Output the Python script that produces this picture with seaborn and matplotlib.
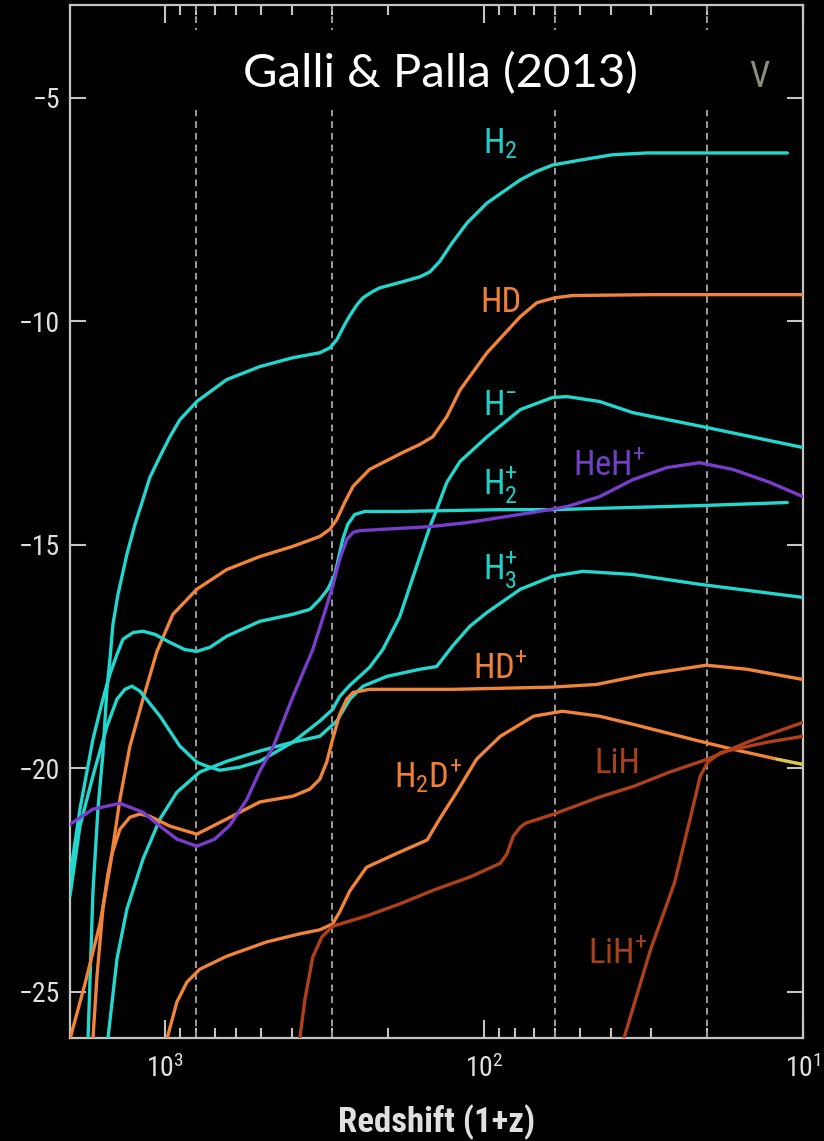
import matplotlib
matplotlib.use("Agg")
import matplotlib.pyplot as plt
from matplotlib import font_manager as fm
from matplotlib.patches import Rectangle
from matplotlib.ticker import LogLocator, NullFormatter, FixedLocator, FixedFormatter
import seaborn as sns

# ---------------------------------------------------------------
# Fractional abundances log10(n_i/n_H) against redshift (1+z)
# ---------------------------------------------------------------
z_H2 = [1750, 1688, 1628, 1571, 1526, 1493, 1461, 1409, 1321, 1246, 1176, 1119, 1040, 968, 901, 797,
        642, 506, 398, 328, 305, 290, 274, 264, 251, 240, 225, 213, 180, 159, 148, 138, 126, 113, 98,
        77, 68.4, 61, 50, 39.6, 30.9, 21.1, 11.2]
x_H2 = [-26.1, -22.77, -20.91, -19.68, -18.23, -17.56, -16.78, -16.11, -15.21, -14.54, -13.98, -13.49,
        -13.02, -12.58, -12.20, -11.79, -11.30, -11.01, -10.81, -10.70, -10.59, -10.41, -10.07, -9.87,
        -9.63, -9.47, -9.34, -9.25, -9.11, -9.00, -8.89, -8.66, -8.24, -7.79, -7.35, -6.83, -6.64,
        -6.50, -6.39, -6.27, -6.23, -6.23, -6.23]

z_HD = [1992, 1788, 1605, 1493, 1389, 1292, 1176, 1063, 947, 797, 642, 506, 398, 328, 305, 290, 274,
        258, 229, 180, 159, 145, 131, 119, 98, 77, 68.4, 60, 52.8, 30.3, 10.0]
x_HD = [-26.05, -24.82, -23.48, -22.21, -20.69, -19.50, -18.45, -17.38, -16.55, -15.99, -15.55, -15.26,
        -15.03, -14.81, -14.65, -14.43, -14.05, -13.69, -13.31, -12.93, -12.75, -12.58, -12.13, -11.53,
        -10.70, -9.89, -9.58, -9.47, -9.42, -9.40, -9.40]

z_Hm = [1992, 1854, 1688, 1526, 1419, 1340, 1274, 1202, 1040, 901, 797, 741, 675, 584, 506, 398, 328,
        299, 284, 264, 229, 208, 184, 163, 148, 141, 131, 119, 98, 77, 61, 55, 43.5, 34.2, 20.1, 10.0]
x_Hm = [-22.85, -21.29, -20.17, -19.06, -18.45, -18.23, -18.16, -18.27, -18.83, -19.50, -19.86, -19.95,
        -20.04, -19.97, -19.84, -19.41, -18.94, -18.68, -18.39, -18.14, -17.74, -17.34, -16.60, -15.48,
        -14.59, -14.21, -13.60, -13.13, -12.58, -11.97, -11.70, -11.68, -11.79, -12.04, -12.37, -12.82]

z_H2p = [1992, 1854, 1688, 1571, 1493, 1419, 1359, 1264, 1176, 1079, 968, 869, 797, 725, 642, 506, 398,
         352, 328, 309.5, 294, 278, 268, 255, 237, 184, 89, 61, 34.2, 21.1, 11.2]
x_H2p = [-22.41, -20.91, -19.35, -18.45, -17.89, -17.45, -17.11, -16.96, -16.93, -17.00, -17.18, -17.34,
         -17.38, -17.29, -17.04, -16.71, -16.55, -16.44, -16.22, -15.99, -15.66, -14.88, -14.54, -14.32,
         -14.25, -14.25, -14.21, -14.21, -14.16, -14.12, -14.05]

z_HeHp = [1992, 1688, 1389, 1176, 1040, 920, 797, 700, 628, 555, 506, 460, 398, 345, 316, 299, 284, 270,
          258, 246, 208, 148, 113, 70, 55, 43.5, 34.2, 26.8, 21.1, 16.6, 12.7, 10.0]
x_HeHp = [-21.25, -20.91, -20.78, -20.98, -21.29, -21.58, -21.74, -21.58, -21.27, -20.69, -20.06, -19.53,
          -18.39, -17.34, -16.49, -15.93, -15.32, -14.88, -14.72, -14.68, -14.65, -14.59, -14.50, -14.27,
          -14.14, -13.92, -13.54, -13.27, -13.16, -13.31, -13.60, -13.92]

z_H3p = [1515, 1419, 1321, 1176, 1040, 920, 780, 642, 506, 398, 328, 290, 264, 240, 202, 159, 141, 126,
         111, 98, 77, 61, 49, 34.2, 21.1, 10.1]
x_H3p = [-26.05, -24.26, -23.15, -22.03, -21.13, -20.53, -20.08, -19.84, -19.61, -19.41, -19.28, -18.94,
         -18.45, -18.16, -17.94, -17.78, -17.72, -17.27, -16.82, -16.51, -15.99, -15.70, -15.59, -15.66,
         -15.88, -16.17]

z_HDp = [1688, 1639, 1571, 1515, 1472, 1389, 1292, 1202, 1119, 968, 797, 642, 506, 398, 352, 328, 312,
         299, 284, 270, 258, 229, 126, 61, 44.4, 30.9, 20.1, 15.0, 10.0]
x_HDp = [-26.05, -24.64, -23.15, -22.36, -21.92, -21.36, -21.09, -21.02, -21.07, -21.29, -21.47, -21.13,
         -20.75, -20.62, -20.46, -20.24, -19.86, -19.35, -18.79, -18.45, -18.30, -18.23, -18.23, -18.18,
         -18.12, -17.89, -17.69, -17.78, -18.01]

z_H2Dp = [989, 920, 856, 780, 642, 481, 379, 328, 299, 284, 264, 234, 184, 151, 138, 122, 105.6, 89, 70,
          56.8, 43.5, 34.2, 21.1, 16.6, 12.1, 10.0]
x_H2Dp = [-26.05, -25.22, -24.78, -24.49, -24.20, -23.88, -23.70, -23.61, -23.48, -23.21, -22.74, -22.21,
          -21.87, -21.60, -21.13, -20.53, -19.79, -19.28, -18.83, -18.72, -18.83, -19.01, -19.39, -19.57,
          -19.79, -19.91]

z_LiH = [379, 365, 345, 323, 299, 234, 184, 144, 111, 89, 85.0, 81, 77, 74, 60.5, 43.5, 34.0, 26.2, 19.9,
         14.7, 10.0]
x_LiH = [-26.05, -25.16, -24.22, -23.77, -23.53, -23.30, -23.03, -22.72, -22.43, -22.12, -21.92, -21.51,
         -21.31, -21.22, -21.02, -20.64, -20.40, -20.08, -19.79, -19.39, -18.97]

z_LiHp = [36.5, 30.1, 25.3, 22.5, 21.0, 19.9, 18.1, 12.9, 10.0]
x_LiHp = [-26.05, -24.06, -22.56, -21.07, -20.17, -19.86, -19.64, -19.41, -19.28]

# epochs marked by dashed vertical lines
epochs = [800, 300, 60, 20]

# axis ticks
y_ticks = [-25, -20, -15, -10, -5]
x_ticks = [1000, 100, 10]
x_tick_labels = ["$10^{3}$", "$10^{2}$", "$10^{1}$"]

# ---------------------------------------------------------------
CYAN = "#22d8ce"
ORANGE = "#f0843a"
PURPLE = "#7a3ccc"
BROWN = "#b0401c"
FRAME = "#c4c4c4"
TEXT = "#e0e0e0"

sns.set_theme(style="dark")


def narrow_font():
    """Pick a condensed sans-serif face, falling back to DejaVu Sans Condensed."""
    names = {f.name for f in fm.fontManager.ttflist}
    for cand in ["Liberation Sans Narrow", "Roboto Condensed", "Noto Sans Condensed",
                 "Open Sans Condensed", "Arial Narrow"]:
        if cand in names:
            return cand, "normal"
    for f in fm.fontManager.ttflist:
        if f.name == "DejaVu Sans" and "Condensed" in f.fname:
            return "DejaVu Sans", "condensed"
    return "DejaVu Sans", "normal"


NARROW, STRETCH = narrow_font()
installed = {f.name for f in fm.fontManager.ttflist}
TITLE_FONT = "Lato" if "Lato" in installed else "DejaVu Sans"

plt.rcParams.update({
    "font.family": [NARROW, "DejaVu Sans"],
    "font.stretch": STRETCH,
    "mathtext.fontset": "custom",
    "mathtext.rm": NARROW,
    "mathtext.it": NARROW,
    "mathtext.bf": NARROW,
    "mathtext.default": "regular",
    "figure.facecolor": "black",
    "axes.facecolor": "black",
    "savefig.facecolor": "black",
    "axes.edgecolor": FRAME,
    "axes.grid": False,
    "axes.unicode_minus": True,
})

fig = plt.figure(figsize=(8.24, 11.41), dpi=100)
ax = fig.add_axes([70 / 824, 1 - 1038 / 1141, 733 / 824, 1033 / 1141])

for e in epochs:
    ax.axvline(e, color="#9c9c9c", lw=1.4, dashes=(3.5, 2.5), zorder=1)

curves = [
    (z_H2, x_H2, CYAN),
    (z_HD, x_HD, ORANGE),
    (z_Hm, x_Hm, CYAN),
    (z_H2p, x_H2p, CYAN),
    (z_H3p, x_H3p, CYAN),
    (z_HDp, x_HDp, ORANGE),
    (z_H2Dp, x_H2Dp, ORANGE),
    (z_HeHp, x_HeHp, PURPLE),
    (z_LiH, x_LiH, BROWN),
    (z_LiHp, x_LiHp, BROWN),
]
for zz, xx, col in curves:
    sns.lineplot(x=zz, y=xx, ax=ax, color=col, linewidth=2.4, sort=False, estimator=None,
                 solid_joinstyle="round", solid_capstyle="round", zorder=3)

# faint yellow tail at the low-redshift end of H2D+
tail = [i for i, z in enumerate(z_H2Dp) if z <= 12.1]
sns.lineplot(x=[z_H2Dp[i] for i in tail], y=[x_H2Dp[i] for i in tail], ax=ax, color="#d8c94e",
             linewidth=2.1, sort=False, estimator=None, zorder=3.5)

ax.set_xscale("log")
ax.set_xlim(1992, 10)
ax.set_ylim(-26.03, -2.92)

ax.xaxis.set_major_locator(FixedLocator(x_ticks))
ax.xaxis.set_major_formatter(FixedFormatter(x_tick_labels))
ax.xaxis.set_minor_locator(LogLocator(base=10, subs=[2, 3, 4, 5, 6, 7, 8, 9]))
ax.xaxis.set_minor_formatter(NullFormatter())
ax.set_yticks(y_ticks)

ax.tick_params(axis="x", which="major", direction="in", length=13, width=1.5, color=FRAME,
               top=True, bottom=True, labelsize=20, labelcolor=TEXT, pad=12)
ax.tick_params(axis="x", which="minor", direction="in", length=7.5, width=1.5, color=FRAME,
               top=True, bottom=True)
ax.tick_params(axis="y", which="major", direction="in", length=11.5, width=1.5, color=FRAME,
               left=True, right=True, labelsize=20, labelcolor=TEXT, pad=7)
for s in ax.spines.values():
    s.set_color(FRAME)
    s.set_linewidth(1.6)

ax.set_xlabel("Redshift (1+z)", fontsize=25, fontweight="bold", color=TEXT)
ax.xaxis.set_label_coords(0.5007, -0.064)
ax.set_ylabel("")

# species labels (axes-fraction positions, baseline anchored)
labels = [
    ("H$_2$", 0.5866, 0.8567, "#1fcfc6"),
    ("HD", 0.588, 0.7028, "#ee7f34"),
    ("H$^{-}$", 0.5866, 0.6031, "#1fcfc6"),
    ("H$_2^{+}$", 0.5866, 0.5266, "#1fcfc6"),
    ("HeH$^{+}$", 0.7353, 0.5450, "#7040c4"),
    ("H$_3^{+}$", 0.5866, 0.4434, "#1fcfc6"),
    ("HD$^{+}$", 0.5866, 0.3485, "#ee7f34"),
    ("H$_2$D$^{+}$", 0.4884, 0.2430, "#ee7f34"),
    ("LiH", 0.7462, 0.2565, "#a8401a"),
    ("LiH$^{+}$", 0.7476, 0.0726, "#a8401a"),
]
for txt, lx, ly, col in labels:
    ax.text(lx, ly, txt, transform=ax.transAxes, ha="center", va="baseline", fontsize=25,
            color=col, zorder=5)

# banner carrying the reference
fig.patches.append(Rectangle((120 / 824, 1 - 110 / 1141), 645 / 824, 80 / 1141,
                             transform=fig.transFigure, facecolor="black", edgecolor="none",
                             zorder=2))
fig.text(440 / 824, 1 - 87 / 1141, "Galli & Palla (2013)", ha="center", va="baseline",
         fontsize=34, color="white", family=TITLE_FONT, fontweight="normal",
         fontstretch="normal", zorder=3)
fig.text(759 / 824, 1 - 87 / 1141, "V", ha="center", va="baseline", fontsize=26,
         color="#8e8b80", zorder=3)

fig.savefig("out.png", dpi=100, facecolor="black")
